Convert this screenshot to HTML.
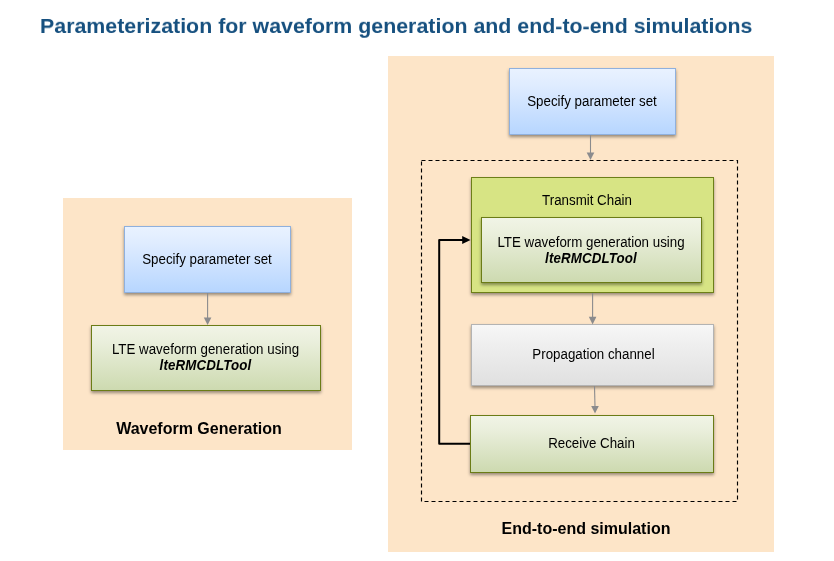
<!DOCTYPE html>
<html lang="en">
<head>
<meta charset="utf-8">
<title>Parameterization for waveform generation and end-to-end simulations</title>
<style>
html,body{margin:0;padding:0;background:#fff;}
body{width:834px;height:561px;position:relative;overflow:hidden;font-family:"Liberation Sans",Arial,Helvetica,sans-serif;color:#111;}
.abs{position:absolute;box-sizing:border-box;}
.panel{background:#fde5c8;}
.box{border:1px solid;box-shadow:0 2px 3px rgba(0,0,0,.4);}
.blue{border-color:#8fb0dd;background:linear-gradient(#e9f2ff,#dfecff 25%,#b7d6ff);}
.green{border-color:#6b7c16;background:linear-gradient(#f1f4e6,#eaefdc 25%,#cddab0);}
.lime{border-color:#6d7f18;background:#d7e484;}
.gray{border-color:#b3b3b3;background:linear-gradient(#f7f7f7,#f0f0f0 27%,#e0e0e0);}
.t{will-change:transform;transform:scaleY(1.07);transform-origin:50% 3px;position:absolute;white-space:nowrap;font-size:13.333px;line-height:16px;text-align:center;color:#000;}
.t2{line-height:15px;transform-origin:50% 2.5px;}
.t2 i{letter-spacing:0.12px;}
.lbl{will-change:transform;position:absolute;white-space:nowrap;font-size:16px;line-height:20px;font-weight:bold;text-align:center;color:#000;}
h1{will-change:transform;transform:scaleY(0.94);transform-origin:0 20.4px;position:absolute;margin:0;left:40.3px;top:13px;letter-spacing:0.02px;font-size:21.333px;line-height:26px;font-weight:bold;color:#16507f;white-space:nowrap;}
svg{position:absolute;left:0;top:0;}
</style>
</head>
<body>
<h1>Parameterization for waveform generation and end-to-end simulations</h1>

<!-- Left panel: waveform generation -->
<div class="abs panel" style="left:63px;top:198px;width:289px;height:252px;"></div>
<div class="abs box blue" style="left:124px;top:226px;width:167px;height:67px;"></div>
<div class="t" style="left:124px;width:166px;top:251px;">Specify parameter set</div>
<div class="abs box green" style="left:91px;top:325px;width:230px;height:66px;"></div>
<div class="t t2" style="left:91px;width:229px;top:341.2px;">LTE waveform generation using<br><b><i>lteRMCDLTool</i></b></div>
<div class="lbl" style="left:63.3px;width:272px;top:419px;">Waveform Generation</div>

<!-- Right panel: end-to-end simulation -->
<div class="abs panel" style="left:388px;top:56px;width:386px;height:496px;"></div>
<div class="abs box blue" style="left:509px;top:68px;width:167px;height:67px;"></div>
<div class="t" style="left:509px;width:166px;top:93px;">Specify parameter set</div>

<div class="abs box lime" style="left:471px;top:177px;width:243px;height:116px;"></div>
<div class="t" style="left:471px;width:232px;top:192px;">Transmit Chain</div>
<div class="abs box green" style="left:481px;top:217px;width:221px;height:66px;"></div>
<div class="t t2" style="left:481px;width:220px;top:234px;">LTE waveform generation using<br><b><i>lteRMCDLTool</i></b></div>

<div class="abs box gray" style="left:471px;top:324px;width:243px;height:62px;"></div>
<div class="t" style="left:471.8px;width:243px;top:345.5px;">Propagation channel</div>

<div class="abs box green" style="left:470px;top:415px;width:244px;height:58px;"></div>
<div class="t" style="left:470px;width:243px;top:435px;">Receive Chain</div>

<div class="lbl" style="left:388px;width:396px;top:519px;">End-to-end simulation</div>

<svg width="834" height="561" viewBox="0 0 834 561">
  <!-- dashed group outline -->
  <rect x="421.5" y="160.5" width="316" height="341" fill="none" stroke="#000" stroke-width="1.15" stroke-dasharray="4 3"/>
  <!-- grey flow arrows -->
  <g stroke="#8b8b8d" stroke-width="1.1" fill="#8b8b8d">
    <line x1="207.6" y1="293" x2="207.6" y2="318"/>
    <polygon points="203.8,317.4 211.4,317.4 207.6,325" stroke="none"/>
    <line x1="590.5" y1="135" x2="590.5" y2="153"/>
    <polygon points="586.7,152.4 594.3,152.4 590.5,160" stroke="none"/>
    <line x1="592.6" y1="293" x2="592.6" y2="317"/>
    <polygon points="588.8,316.8 596.4,316.8 592.6,324.4" stroke="none"/>
    <line x1="594.5" y1="386" x2="595" y2="407"/>
    <polygon points="591.2,405.9 598.8,405.9 595,413.5" stroke="none"/>
  </g>
  <!-- feedback loop -->
  <polyline points="470,443.8 439.2,443.8 439.2,240 463,240" fill="none" stroke="#000" stroke-width="2" stroke-linejoin="round"/>
  <polygon points="462.2,235.9 470.5,240 462.2,244.1" fill="#000"/>
</svg>
</body>
</html>
